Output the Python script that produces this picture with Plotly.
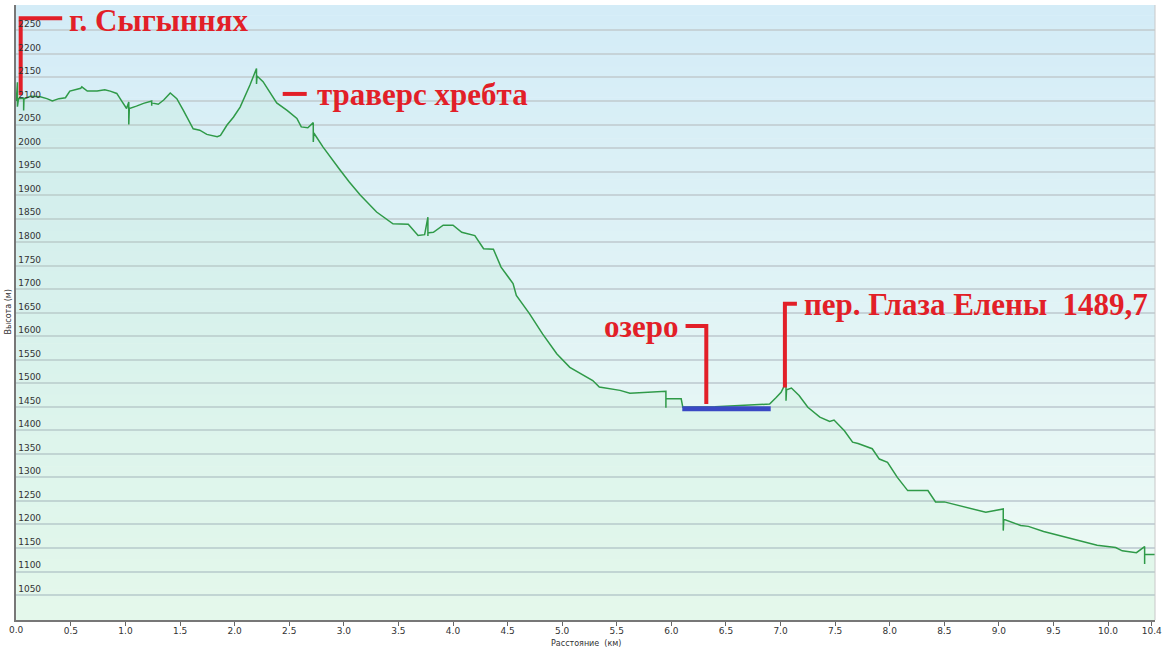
import plotly.graph_objects as go

# ---------------- data ----------------
dist_km = [0.00, 0.01, 0.01, 0.02, 0.067, 0.067, 0.07, 0.128, 0.22, 0.28, 0.33, 0.39, 0.45, 0.49,
           0.59, 0.60, 0.65, 0.74, 0.81, 0.86, 0.92, 0.97, 1.01, 1.03, 1.03, 1.03, 1.035, 1.10,
           1.165, 1.24, 1.24, 1.24, 1.30, 1.35, 1.41, 1.47, 1.53, 1.58, 1.62, 1.68, 1.745, 1.84,
           1.87, 1.93, 1.99, 2.05, 2.08, 2.14, 2.20, 2.20, 2.20, 2.205, 2.26, 2.32, 2.385, 2.48,
           2.57, 2.61, 2.67, 2.72, 2.72, 2.72, 2.725, 2.81, 2.91, 2.96, 3.05, 3.15, 3.30, 3.45,
           3.59, 3.68, 3.74, 3.77, 3.77, 3.77, 3.78, 3.82, 3.91, 4.00, 4.08, 4.20, 4.28, 4.37,
           4.44, 4.55, 4.58, 4.70, 4.82, 4.95, 5.07, 5.28, 5.34, 5.53, 5.62, 5.95, 5.95, 5.95,
           5.955, 6.09, 6.105, 6.40, 6.60, 6.75, 6.90, 6.96, 7.005, 7.05, 7.05, 7.05, 7.055, 7.10,
           7.17, 7.25, 7.36, 7.45, 7.49, 7.585, 7.66, 7.71, 7.78, 7.84, 7.905, 7.98, 8.07, 8.165,
           8.35, 8.42, 8.50, 8.88, 9.04, 9.04, 9.04, 9.045, 9.20, 9.27, 9.41, 9.53, 9.65, 9.90,
           10.07, 10.13, 10.26, 10.335, 10.335, 10.335, 10.34, 10.43]
elev_m = [2100, 2140, 2088, 2105, 2106, 2080, 2104, 2110, 2109, 2105, 2100, 2105, 2107, 2121,
          2127, 2130, 2121, 2121, 2124, 2121, 2116, 2098, 2084, 2098, 2050, 2084, 2084, 2089,
          2095, 2100, 2090, 2096, 2093, 2102, 2117, 2105, 2080, 2059, 2041, 2038, 2029, 2024,
          2027, 2049, 2066, 2087, 2102, 2134, 2169, 2136, 2155, 2153, 2141, 2119, 2096, 2080,
          2063, 2045, 2043, 2054, 2013, 2034, 2032, 2002, 1970, 1955, 1928, 1900, 1864, 1839,
          1838, 1814, 1816, 1853, 1813, 1821, 1820, 1821, 1836, 1836, 1821, 1814, 1786, 1785,
          1747, 1712, 1687, 1648, 1605, 1563, 1534, 1506, 1492, 1485, 1479, 1483, 1448, 1467,
          1467, 1467, 1449, 1450, 1452, 1454, 1456, 1470, 1481, 1502, 1463, 1485, 1486, 1490,
          1474, 1449, 1428, 1419, 1422, 1399, 1375, 1372, 1366, 1361, 1339, 1332, 1300, 1272,
          1272, 1248, 1248, 1226, 1233, 1187, 1212, 1211, 1198, 1196, 1185, 1178, 1171, 1156,
          1151, 1144, 1140, 1153, 1116, 1136, 1136, 1136]

lake_km = [6.10, 6.91]
lake_elev = [1446, 1446]

x_tick_vals = [0.0, 0.5, 1.0, 1.5, 2.0, 2.5, 3.0, 3.5, 4.0, 4.5, 5.0, 5.5, 6.0, 6.5, 7.0,
               7.5, 8.0, 8.5, 9.0, 9.5, 10.0, 10.4]
x_tick_text = ["0.0", "0.5", "1.0", "1.5", "2.0", "2.5", "3.0", "3.5", "4.0", "4.5", "5.0",
               "5.5", "6.0", "6.5", "7.0", "7.5", "8.0", "8.5", "9.0", "9.5", "10.0", "10.4"]
y_tick_vals = list(range(1050, 2251, 50))

# callout labels: text, text anchor (km, m), leader polyline (km list, m list)
label_texts = ["г. Сыгыннях", "траверс хребта", "озеро", "пер. Глаза Елены\u00a0\u00a01489,7"]
label_x = [0.46, 2.74, 6.08, 7.20]
label_y = [2272, 2113, 1620, 1668]
label_anchor = ["left", "left", "right", "left"]
leader_x = [[0.42, 0.04, 0.04], [2.66, 2.44], [6.13, 6.32, 6.32], [7.15, 7.04, 7.04]]
leader_y = [[2276, 2276, 2112], [2115, 2115], [1622, 1622, 1456], [1669, 1669, 1491]]

X_RANGE = [-0.003, 10.43]
Y_RANGE = [997, 2304]

fig = go.Figure()

# gradient background (blue at top -> mint at bottom)
n_bands = 60
top_c = (212, 236, 247)
bot_c = (238, 251, 244)
for i in range(n_bands):
    t = i / (n_bands - 1)
    c = tuple(round(top_c[k] + (bot_c[k] - top_c[k]) * t) for k in range(3))
    fig.add_shape(type="rect", xref="paper", yref="paper", x0=0, x1=1,
                  y1=1 - i / n_bands, y0=1 - (i + 1) / n_bands - 0.001,
                  fillcolor="rgb(%d,%d,%d)" % c, line_width=0, layer="below")

fig.add_trace(go.Scatter(x=dist_km, y=elev_m, mode="lines",
                         line=dict(color="#2f9a48", width=1.5),
                         fill="tozeroy", fillcolor="rgba(160,235,175,0.13)",
                         hoverinfo="skip", showlegend=False))
fig.add_trace(go.Scatter(x=lake_km, y=lake_elev, mode="lines",
                         line=dict(color="#3a48c4", width=5),
                         hoverinfo="skip", showlegend=False))

red = "#e21f28"
for lx, ly in zip(leader_x, leader_y):
    fig.add_trace(go.Scatter(x=lx, y=ly, mode="lines", line=dict(color=red, width=4),
                             hoverinfo="skip", showlegend=False))

for txt, tx, ty, anc in zip(label_texts, label_x, label_y, label_anchor):
    fig.add_annotation(x=tx, y=ty, xref="x", yref="y", text="<b>%s</b>" % txt,
                       showarrow=False, xanchor=anc, yanchor="middle",
                       font=dict(family="Liberation Serif", size=31, color=red))

# right border line
fig.add_shape(type="line", xref="paper", yref="paper", x0=1, x1=1, y0=0, y1=1,
              line=dict(color="#c8c8c8", width=1))

# first x tick label (plotly hides the one sitting on the y axis)
fig.add_annotation(x=x_tick_vals[0], y=0, xref="x", yref="paper", yshift=-10,
                   text=x_tick_text[0], showarrow=False, xanchor="center",
                   yanchor="middle", font=dict(family="DejaVu Sans", size=9, color="#333"))

fig.add_annotation(x=0, y=0.5, xref="paper", yref="paper", xshift=-8, text="Высота (м)",
                   textangle=-90, showarrow=False, xanchor="center", yanchor="middle",
                   font=dict(family="DejaVu Sans", size=8, color="#333"))
fig.add_annotation(x=0.5, y=0, xref="paper", yref="paper", yshift=-23,
                   text="Расстояние\u00a0\u00a0(км)", showarrow=False,
                   xanchor="center", yanchor="middle",
                   font=dict(family="DejaVu Sans", size=8, color="#333"))

fig.update_layout(
    width=1167, height=651,
    margin=dict(l=16, r=8, t=5, b=31),
    paper_bgcolor="white", plot_bgcolor="rgba(0,0,0,0)",
    xaxis=dict(range=X_RANGE, tickvals=x_tick_vals, ticktext=x_tick_text,
               showgrid=False, zeroline=False, ticks="outside", ticklen=4,
               tickcolor="#666", showline=True, linecolor="#777", linewidth=1.5,
               ticklabeloverflow="allow", ticklabelstandoff=-3,
               tickfont=dict(family="DejaVu Sans", size=9, color="#333")),
    yaxis=dict(range=Y_RANGE, tickvals=y_tick_vals, showgrid=True,
               gridcolor="#c6d3d8", gridwidth=1.5, zeroline=False, ticks="",
               ticklabelposition="inside top", showline=True, linecolor="#777",
               linewidth=2, tickfont=dict(family="DejaVu Sans", size=9, color="#333")),
)

fig.write_html("out.html", config={"displayModeBar": False},
               post_script="document.body.style.margin='0';document.body.style.padding='0';")
